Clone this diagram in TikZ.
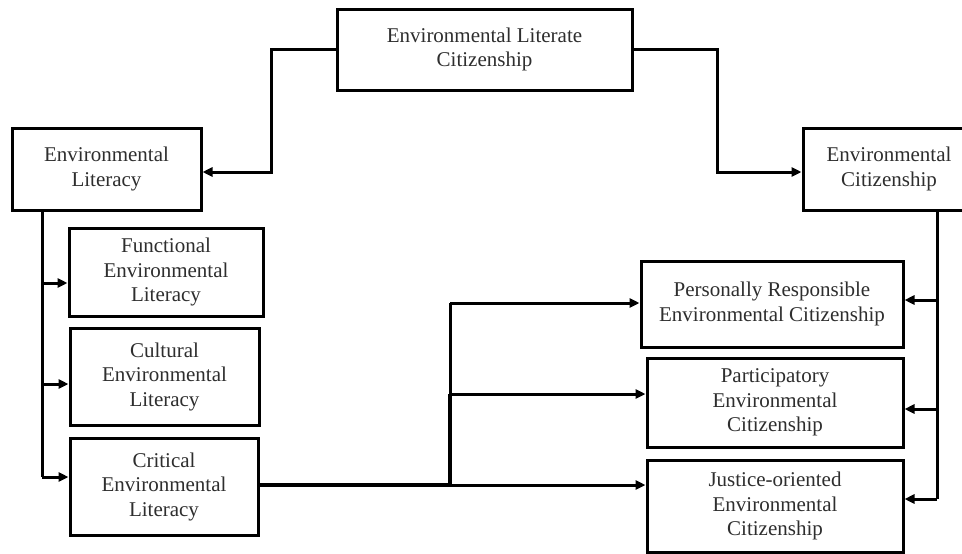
\documentclass[tikz,border=0pt]{standalone}
\usepackage{fontspec}
\setmainfont{Liberation Serif}
\usetikzlibrary{arrows.meta}
\begin{document}
\begin{tikzpicture}[x=1pt,y=-1pt,
  box/.style={draw=black,line width=3pt,fill=white,inner sep=0pt,align=center,
    text=black!82,font=\fontsize{21}{24.5}\selectfont},
  conn/.style={draw=black,line width=3pt},
  heavy/.style={draw=black,line width=4.5pt},
  arr/.style={conn,-{Triangle[length=10pt,width=9pt]}}]
\useasboundingbox (0,0) rectangle (962,554);
\clip (0,0) rectangle (962,554);
\fill[white] (0,0) rectangle (962,554);
% boxes
\node[box,minimum width=295pt,minimum height=81pt] (top) at (484.5,49.5) {Environmental Literate\\Citizenship};
\node[box,minimum width=189pt,minimum height=82pt] (EL) at (106.5,169) {Environmental\\Literacy};
\node[box,minimum width=172pt,minimum height=82pt] (EC) at (889,169) {Environmental\\Citizenship};
\node[box,minimum width=194pt,minimum height=88pt] (func) at (166,272) {Functional\\Environmental\\Literacy};
\node[box,minimum width=189pt,minimum height=97pt] (cult) at (164.5,376.5) {Cultural\\Environmental\\Literacy};
\node[box,minimum width=188pt,minimum height=97pt] (crit) at (164,486.5) {Critical\\Environmental\\Literacy};
\node[box,minimum width=262pt,minimum height=86pt] (PR) at (772,304) {Personally Responsible\\Environmental Citizenship};
\node[box,minimum width=256pt,minimum height=89pt] (part) at (775,402.5) {Participatory\\Environmental\\Citizenship};
\node[box,minimum width=256pt,minimum height=92pt] (just) at (775,506) {Justice-oriented\\Environmental\\Citizenship};
% junction coordinates
\coordinate (tl) at (271,0);
\coordinate (tr) at (717,0);
\coordinate (lv) at (42,0);
\coordinate (rv) at (937,0);
\coordinate (mv) at (450,0);
\coordinate (jf) at (42,283);
\coordinate (jc) at (42,384);
\coordinate (jk) at (42,477);
\coordinate (mpr) at (450,303);
\coordinate (mpa) at (450,394);
\coordinate (mju) at (450,485);
\coordinate (rpr) at (937,300);
\coordinate (rpa) at (937,409);
\coordinate (rju) at (937,499);
% top connectors
\draw[arr] (top.west) -| (tl |- 0,172) -- (EL.east |- 0,172);
\draw[arr] (top.east) -| (tr |- 0,172) -- (EC.west |- 0,172);
% left tree
\draw[conn] (EL.south -| lv) -- (jk);
\draw[arr] (jf) -- (func.west |- jf);
\draw[arr] (jc) -- (cult.west |- jc);
\draw[arr] (jk) -- (crit.west |- jk);
% critical to citizenship types
\draw[heavy] (crit.east |- mju) -- (mju);
\draw[heavy] (mju) -- (mpa);
\draw[conn] (mpa) -- (mpr);
\draw[arr] (mpr) -- (PR.west |- mpr);
\draw[arr] (mpa) -- (part.west |- mpa);
\draw[arr] (mju) -- (just.west |- mju);
% right tree
\draw[conn] (EC.south -| rv) -- (rju);
\draw[arr] (rpr) -- (PR.east |- rpr);
\draw[arr] (rpa) -- (part.east |- rpa);
\draw[arr] (rju) -- (just.east |- rju);
\end{tikzpicture}
\end{document}
